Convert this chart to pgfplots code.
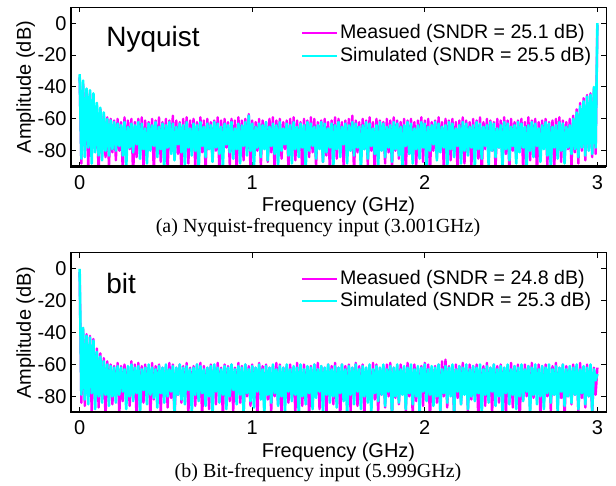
\documentclass[border=0pt]{standalone}
\usepackage{fontspec}
\setmainfont{Liberation Serif}
\newfontfamily\arial{Liberation Sans}
\usepackage{pgfplots}
\usepackage{pgfplotstable}
\pgfplotsset{compat=1.18}

\definecolor{magcol}{RGB}{255,0,255}
\definecolor{cyacol}{RGB}{0,255,255}

% FFT bins every 10 MHz: m1/s1 = Nyquist input, m2/s2 = bit-frequency input
\pgfplotstableread{
x m1 s1 m2 s2
0.00 -34 -32 -2 0
0.01 -88 -85 -84 -79
0.02 -38 -36 -38 -37
0.03 -80 -84 -86 -82
0.04 -44 -41 -41 -42
0.05 -92 -78 -80 -85
0.06 -43 -42 -42 -43
0.07 -83 -88 -91 -78
0.08 -48 -44 -44 -45
0.09 -79 -81 -83 -88
0.10 -52 -50 -50 -52
0.11 -95 -83 -87 -80
0.12 -54 -53 -53 -55
0.13 -82 -86 -82 -84
0.14 -57 -56 -56 -58
0.15 -84 -80 -94 -79
0.16 -59 -60 -58 -60
0.17 -90 -83 -81 -86
0.18 -60 -61 -60 -61
0.19 -81 -79 -85 -80
0.20 -61 -62 -61 -62
0.21 -86 -80 -79 -84
0.22 -60 -63 -59 -61
0.23 -80 -77 -92 -79
0.24 -62 -64 -61 -62
0.25 -93 -83 -83 -77
0.26 -59 -62 -60 -63
0.27 -82 -90 -78 -88
0.28 -61 -65 -62 -61
0.29 -79 -78 -86 -80
0.30 -60 -63 -58 -60
0.31 -96 -81 -81 -83
0.32 -62 -64 -60 -62
0.33 -84 -76 -95 -78
0.34 -60 -62 -59 -61
0.35 -80 -85 -80 -91
0.36 -59 -63 -61 -63
0.37 -91 -79 -84 -76
0.38 -61 -66 -60 -62
0.39 -83 -88 -79 -85
0.40 -62 -63 -62 -60
0.41 -78 -80 -93 -79
0.42 -60 -64 -59 -62
0.43 -94 -77 -82 -81
0.44 -61 -62 -61 -63
0.45 -81 -84 -78 -87
0.46 -59 -65 -60 -61
0.47 -87 -79 -90 -78
0.48 -62 -63 -62 -62
0.49 -80 -91 -80 -84
0.50 -60 -64 -61 -60
0.51 -92 -78 -87 -80
0.52 -61 -62 -59 -63
0.53 -79 -82 -81 -77
0.54 -58 -63 -60 -61
0.55 -85 -86 -95 -89
0.56 -61 -65 -62 -62
0.57 -82 -76 -79 -79
0.58 -62 -63 -60 -60
0.59 -95 -81 -84 -82
0.60 -60 -64 -61 -62
0.61 -80 -89 -80 -85
0.62 -59 -62 -59 -61
0.63 -88 -78 -91 -76
0.64 -61 -66 -62 -63
0.65 -78 -83 -78 -90
0.66 -60 -63 -61 -62
0.67 -90 -80 -86 -79
0.68 -62 -64 -60 -60
0.69 -83 -92 -82 -83
0.70 -59 -62 -59 -61
0.71 -81 -77 -94 -78
0.72 -61 -65 -61 -63
0.73 -93 -84 -79 -86
0.74 -60 -63 -62 -62
0.75 -79 -79 -88 -80
0.76 -62 -64 -60 -61
0.77 -86 -87 -81 -92
0.78 -61 -62 -61 -60
0.79 -80 -78 -85 -77
0.80 -59 -63 -59 -62
0.81 -94 -82 -80 -84
0.82 -61 -65 -62 -63
0.83 -82 -90 -93 -79
0.84 -60 -63 -60 -61
0.85 -78 -76 -78 -88
0.86 -62 -64 -61 -62
0.87 -89 -81 -83 -80
0.88 -60 -62 -60 -60
0.89 -81 -85 -89 -76
0.90 -61 -66 -62 -63
0.91 -95 -79 -79 -85
0.92 -59 -63 -59 -61
0.93 -80 -88 -84 -79
0.94 -61 -64 -61 -62
0.95 -86 -77 -92 -90
0.96 -60 -62 -60 -60
0.97 -79 -83 -80 -78
0.98 -57 -58 -61 -63
0.99 -92 -80 -86 -83
1.00 -61 -63 -60 -61
1.01 -83 -91 -81 -87
1.02 -62 -65 -62 -62
1.03 -80 -78 -95 -77
1.04 -60 -63 -59 -60
1.05 -90 -84 -79 -82
1.06 -61 -64 -61 -63
1.07 -78 -79 -87 -91
1.08 -62 -62 -60 -61
1.09 -87 -86 -82 -79
1.10 -60 -65 -62 -62
1.11 -81 -77 -90 -84
1.12 -59 -63 -61 -60
1.13 -94 -82 -80 -78
1.14 -61 -64 -59 -63
1.15 -80 -89 -85 -86
1.16 -60 -62 -60 -61
1.17 -85 -80 -93 -80
1.18 -62 -66 -62 -62
1.19 -79 -76 -78 -89
1.20 -61 -63 -61 -60
1.21 -91 -83 -84 -77
1.22 -60 -64 -60 -63
1.23 -82 -88 -81 -83
1.24 -59 -62 -62 -61
1.25 -86 -79 -91 -79
1.26 -61 -65 -59 -62
1.27 -80 -84 -79 -92
1.28 -62 -63 -61 -60
1.29 -96 -78 -86 -80
1.30 -60 -64 -60 -63
1.31 -79 -91 -80 -85
1.32 -61 -62 -62 -61
1.33 -84 -80 -94 -78
1.34 -59 -63 -61 -62
1.35 -81 -77 -83 -88
1.36 -60 -65 -60 -60
1.37 -90 -85 -79 -81
1.38 -62 -64 -59 -63
1.39 -78 -79 -88 -77
1.40 -61 -62 -61 -61
1.41 -87 -87 -81 -90
1.42 -60 -63 -62 -62
1.43 -83 -81 -92 -79
1.44 -62 -66 -60 -60
1.45 -93 -78 -80 -84
1.46 -61 -63 -61 -63
1.47 -80 -90 -85 -80
1.48 -59 -64 -59 -61
1.49 -85 -79 -78 -87
1.50 -60 -62 -62 -62
1.51 -79 -84 -95 -78
1.52 -62 -65 -60 -60
1.53 -91 -76 -82 -83
1.54 -61 -63 -61 -63
1.55 -82 -88 -79 -91
1.56 -60 -64 -60 -61
1.57 -80 -80 -89 -79
1.58 -58 -62 -62 -62
1.59 -94 -83 -80 -85
1.60 -61 -63 -59 -60
1.61 -81 -78 -86 -77
1.62 -62 -65 -61 -63
1.63 -86 -92 -81 -88
1.64 -60 -64 -60 -61
1.65 -79 -79 -93 -80
1.66 -61 -62 -62 -62
1.67 -89 -85 -78 -84
1.68 -59 -63 -61 -60
1.69 -80 -77 -84 -90
1.70 -62 -66 -59 -63
1.71 -95 -82 -82 -78
1.72 -60 -64 -60 -61
1.73 -83 -89 -90 -83
1.74 -61 -62 -62 -62
1.75 -78 -80 -79 -79
1.76 -62 -63 -61 -60
1.77 -88 -84 -87 -86
1.78 -60 -65 -60 -63
1.79 -81 -78 -80 -77
1.80 -61 -64 -59 -61
1.81 -92 -87 -94 -92
1.82 -59 -62 -62 -62
1.83 -80 -79 -81 -80
1.84 -61 -63 -61 -60
1.85 -85 -83 -85 -84
1.86 -62 -65 -60 -63
1.87 -79 -91 -78 -79
1.88 -60 -64 -62 -61
1.89 -93 -77 -89 -88
1.90 -61 -62 -59 -62
1.91 -82 -82 -80 -78
1.92 -60 -63 -61 -60
1.93 -80 -88 -92 -85
1.94 -62 -66 -60 -63
1.95 -90 -79 -83 -80
1.96 -61 -64 -62 -61
1.97 -78 -85 -79 -91
1.98 -59 -62 -61 -62
1.99 -87 -78 -86 -77
2.00 -61 -63 -59 -60
2.01 -81 -90 -81 -83
2.02 -60 -65 -60 -63
2.03 -95 -80 -95 -79
2.04 -62 -64 -62 -61
2.05 -80 -76 -78 -86
2.06 -61 -62 -61 -62
2.07 -84 -86 -84 -80
2.08 -59 -63 -60 -60
2.09 -79 -81 -90 -89
2.10 -62 -65 -58 -63
2.11 -91 -78 -80 -78
2.12 -60 -64 -57 -61
2.13 -82 -92 -87 -84
2.14 -61 -62 -61 -62
2.15 -86 -79 -79 -80
2.16 -60 -63 -62 -60
2.17 -80 -84 -93 -90
2.18 -62 -66 -60 -63
2.19 -94 -77 -81 -77
2.20 -61 -64 -61 -61
2.21 -79 -88 -85 -85
2.22 -59 -62 -59 -62
2.23 -88 -80 -78 -79
2.24 -61 -63 -62 -60
2.25 -81 -83 -89 -88
2.26 -62 -65 -60 -63
2.27 -90 -78 -82 -80
2.28 -60 -64 -61 -61
2.29 -80 -90 -80 -83
2.30 -61 -62 -60 -62
2.31 -85 -79 -94 -78
2.32 -59 -63 -62 -60
2.33 -96 -85 -79 -91
2.34 -62 -65 -61 -63
2.35 -79 -77 -86 -79
2.36 -60 -64 -59 -61
2.37 -83 -89 -81 -84
2.38 -61 -62 -62 -62
2.39 -80 -80 -91 -77
2.40 -62 -63 -60 -60
2.41 -91 -84 -80 -86
2.42 -60 -66 -61 -63
2.43 -78 -78 -84 -80
2.44 -61 -64 -60 -61
2.45 -87 -91 -78 -90
2.46 -59 -62 -62 -62
2.47 -82 -79 -92 -78
2.48 -61 -63 -61 -60
2.49 -93 -86 -80 -85
2.50 -60 -65 -59 -63
2.51 -80 -77 -87 -79
2.52 -62 -64 -61 -61
2.53 -85 -88 -79 -88
2.54 -61 -62 -60 -62
2.55 -79 -81 -95 -80
2.56 -60 -63 -62 -60
2.57 -92 -78 -82 -83
2.58 -62 -65 -60 -63
2.59 -81 -90 -80 -77
2.60 -59 -64 -61 -61
2.61 -86 -80 -88 -91
2.62 -61 -62 -59 -62
2.63 -80 -84 -81 -79
2.64 -60 -63 -62 -60
2.65 -95 -77 -78 -85
2.66 -62 -66 -60 -63
2.67 -82 -87 -93 -80
2.68 -61 -64 -61 -61
2.69 -78 -79 -84 -88
2.70 -60 -62 -60 -62
2.71 -89 -83 -80 -78
2.72 -62 -63 -62 -60
2.73 -81 -91 -89 -84
2.74 -61 -65 -61 -63
2.75 -92 -78 -79 -79
2.76 -60 -64 -59 -61
2.77 -80 -85 -86 -90
2.78 -59 -62 -62 -62
2.79 -87 -80 -81 -77
2.80 -61 -63 -60 -60
2.81 -83 -88 -94 -86
2.82 -62 -65 -61 -63
2.83 -79 -78 -80 -80
2.84 -60 -64 -62 -61
2.85 -90 -82 -85 -84
2.86 -58 -60 -60 -62
2.87 -81 -79 -79 -79
2.88 -54 -56 -61 -60
2.89 -88 -84 -90 -88
2.90 -50 -52 -59 -63
2.91 -80 -78 -81 -78
2.92 -47 -49 -62 -61
2.93 -86 -83 -87 -85
2.94 -45 -46 -60 -62
2.95 -79 -80 -80 -80
2.96 -44 -45 -61 -60
2.97 -84 -82 -92 -89
2.98 -41 -40 -62 -63
2.99 -82 -78 -79 -70
3.00 -1 0 -62 -66
}\spec

\newcommand\lblfont{\arial\fontsize{10}{12}\selectfont}

\pgfplotsset{specaxis/.style={
  scale only axis, width=267.5pt, height=79.7pt,
  xmin=-0.05, xmax=3.05, ymin=-90, ymax=10,
  xtick={0,1,2,3}, ytick={-80,-60,-40,-20,0},
  tick align=inside, major tick length=2.5pt,
  tick style={black, line width=0.5pt},
  axis line style={line width=0.5pt},
  /pgf/number format/assume math mode=true,
  ticklabel style={font=\lblfont},
  xticklabel style={anchor=base, yshift=-11.3pt},
  yticklabel style={inner xsep=2pt},
  ylabel={Amplitude (dB)},
  ylabel style={font=\lblfont, at={(axis description cs:-0.0748,0.5)}, anchor=base},
  legend style={draw=none, fill=none, inner sep=0pt, row sep=0pt,
    at={(0.978,0.91)}, anchor=north east,
    nodes={inner sep=1.3pt}, font=\arial\fontsize{9.8}{12}\selectfont},
  legend cell align=left,
  legend image post style={line width=1pt},
  every axis plot/.append style={line join=round},
}}

\begin{document}
\begin{tikzpicture}
\useasboundingbox (0,0) rectangle (308pt,243pt);

\begin{axis}[specaxis, name=top, at={(35.5pt,159.65pt)}, anchor=south west]
\addplot[draw=magcol, line width=1.2pt] table[x=x, y=m1] {\spec};
\addplot[draw=cyacol, line width=1.3pt] table[x=x, y=s1] {\spec};
\legend{Measued (SNDR = 25.1 dB), Simulated (SNDR = 25.5 dB)}
\node[anchor=base west, inner sep=0pt, font=\arial\fontsize{14}{16}\selectfont]
  at (rel axis cs:0.0654,0.757) {Nyquist};
\end{axis}
\draw[line width=1.2pt] (top.north west) -- (top.south west) -- (top.south east);
\node[anchor=base, inner sep=0pt, font=\lblfont]
  at ([yshift=-22.5pt]top.south) {Frequency (GHz)};

\begin{axis}[specaxis, name=bot, at={(35.5pt,36.85pt)}, anchor=south west]
\addplot[draw=magcol, line width=1.2pt] table[x=x, y=m2] {\spec};
\addplot[draw=cyacol, line width=1.3pt] table[x=x, y=s2] {\spec};
\legend{Measued (SNDR = 24.8 dB), Simulated (SNDR = 25.3 dB)}
\node[anchor=base west, inner sep=0pt, font=\arial\fontsize{14}{16}\selectfont]
  at (rel axis cs:0.0654,0.746) {bit};
\end{axis}
\draw[line width=1.2pt] (bot.north west) -- (bot.south west) -- (bot.south east);
\node[anchor=base, inner sep=0pt, font=\lblfont]
  at ([yshift=-22.5pt]bot.south) {Frequency (GHz)};

\node[anchor=base, inner sep=0pt, font=\fontsize{10}{12}\selectfont]
  at (159pt,126.75pt) {(a) Nyquist-frequency input (3.001GHz)};
\node[anchor=base, inner sep=0pt, font=\fontsize{10}{12}\selectfont]
  at (159pt,4.35pt) {(b) Bit-frequency input (5.999GHz)};
\end{tikzpicture}
\end{document}
